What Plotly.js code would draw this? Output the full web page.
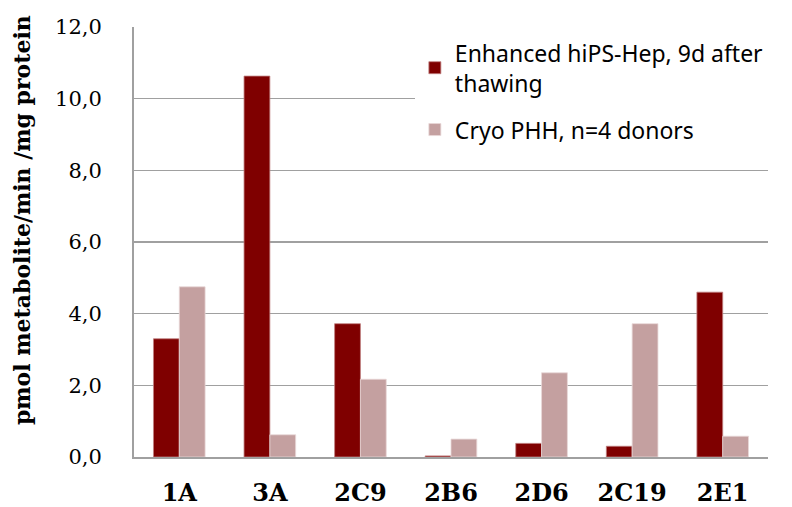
<!DOCTYPE html>
<html>
<head>
<meta charset="utf-8">
<script src="https://cdn.plot.ly/plotly-3.0.1.min.js"></script>
<style>html,body{margin:0;padding:0;background:#fff;}#chart{width:792px;height:507px;}</style>
</head>
<body>
<div id="chart"></div>
<script>
var categories = ["1A", "3A", "2C9", "2B6", "2D6", "2C19", "2E1"];
var hipsValues = [3.30, 10.63, 3.72, 0.03, 0.38, 0.30, 4.60];
var phhValues = [4.75, 0.62, 2.17, 0.50, 2.35, 3.72, 0.58];
var seriesNames = ["Enhanced hiPS-Hep, 9d after<br>thawing", "Cryo PHH, n=4 donors"];
var yTickValues = [0, 2, 4, 6, 8, 10, 12];
var yTitle = "pmol metabolite/min /mg protein";

var traces = [
  {type: "bar", x: categories, y: hipsValues, name: seriesNames[0], legendgroup: "a",
   marker: {color: "#7F0000", line: {color: "#C08080", width: 0.8}}},
  {type: "bar", x: categories, y: phhValues, name: seriesNames[1], legendgroup: "b",
   marker: {color: "#C4A0A0", line: {color: "#E8D8D8", width: 0.8}}}
];

var layout = {
  width: 792, height: 507,
  margin: {l: 134, r: 24, t: 27, b: 50},
  paper_bgcolor: "#fff", plot_bgcolor: "#fff",
  separators: ",.",
  barmode: "group",
  bargap: 0.43, bargroupgap: 0,
  showlegend: true,
  legend: {x: 0.443, y: 0.99, xanchor: "left", yanchor: "top", bgcolor: "#fff",
    font: {family: "Noto Sans", size: 23, color: "#000"}, tracegroupgap: 14,
    itemwidth: 30},
  xaxis: {
    type: "category",
    showline: true, linecolor: "#A0A0A0", linewidth: 2,
    ticks: "outside", ticklen: 13, tickcolor: "rgba(0,0,0,0)",
    tickfont: {family: "DejaVu Serif", size: 24, color: "#000", weight: "bold"},
    showgrid: false, zeroline: false, fixedrange: true
  },
  yaxis: {
    range: [0, 12],
    tickvals: yTickValues, tickformat: ".1f",
    showline: true, linecolor: "#A0A0A0", linewidth: 2,
    showgrid: true, gridcolor: "#A0A0A0", gridwidth: 1.5,
    zeroline: false,
    ticks: "outside", ticklen: 26, tickcolor: "rgba(0,0,0,0)",
    tickfont: {family: "DejaVu Serif", size: 21, color: "#000"},
    fixedrange: true
  },
  annotations: [{
    text: yTitle, textangle: -90, showarrow: false,
    xref: "paper", yref: "paper", x: -0.1767, y: 0.551,
    xanchor: "center", yanchor: "middle",
    font: {family: "DejaVu Serif", size: 22, color: "#000", weight: "bold"}
  }]
};

Plotly.newPlot("chart", traces, layout, {displayModeBar: false, staticPlot: true});
</script>
</body>
</html>
